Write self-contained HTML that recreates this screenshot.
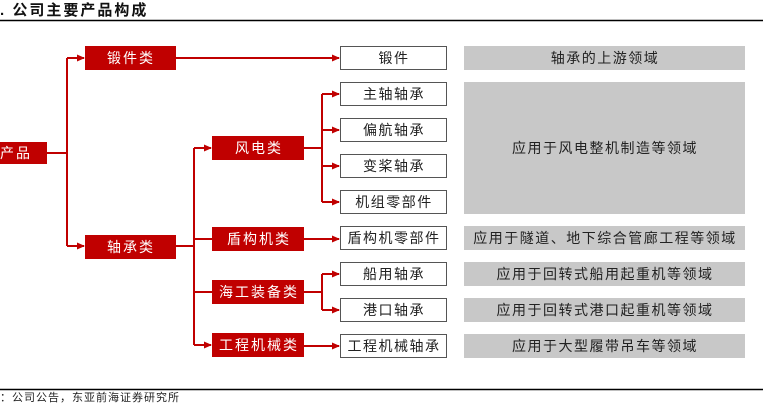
<!DOCTYPE html>
<html><head><meta charset="utf-8"><style>
body{margin:0;background:#fff;width:763px;height:403px;overflow:hidden}
text{font-family:"Liberation Sans","Noto Sans CJK SC",sans-serif}
</style></head><body>
<svg width="763" height="403" xmlns="http://www.w3.org/2000/svg">
<defs><marker id="a" markerWidth="8" markerHeight="8" refX="7" refY="4" orient="auto" markerUnits="userSpaceOnUse"><path d="M0,0.5 L8,4 L0,7.5Z" fill="#c00000"/></marker></defs>
<text x="0" y="15" font-size="15" font-weight="bold" fill="#111" letter-spacing="2">.  公司主要产品构成</text>
<line x1="0" y1="20.5" x2="763" y2="20.5" stroke="#000" stroke-width="1.5"/>
<g stroke="#c00000" stroke-width="2" fill="none">
<path d="M47,153 H67 M67,58 V246"/>
<path d="M67,58 H84" marker-end="url(#a)"/>
<path d="M67,246 H84" marker-end="url(#a)"/>
<path d="M176,58 H339" marker-end="url(#a)"/>
<path d="M176,246 H194 M194,148 V345"/>
<path d="M194,148 H211" marker-end="url(#a)"/>
<path d="M194,345 H211" marker-end="url(#a)"/>
<path d="M194,292 H212 M194,239 H212"/>
<path d="M304,148 H322 M322,94 V202"/>
<path d="M322,94 H339" marker-end="url(#a)"/>
<path d="M322,130 H339" marker-end="url(#a)"/>
<path d="M322,166 H339" marker-end="url(#a)"/>
<path d="M322,202 H339" marker-end="url(#a)"/>
<path d="M304,239 H339" marker-end="url(#a)"/>
<path d="M304,292 H322 M322,274 V310"/>
<path d="M322,274 H339" marker-end="url(#a)"/>
<path d="M322,310 H339" marker-end="url(#a)"/>
<path d="M304,346 H339" marker-end="url(#a)"/>
</g>
<g fill="#c00000">
<rect x="-30" y="142" width="77" height="22"/>
<rect x="85" y="46" width="91" height="24"/>
<rect x="85" y="235" width="91" height="24"/>
<rect x="212" y="136" width="92" height="24"/>
<rect x="212" y="227" width="92" height="24"/>
<rect x="212" y="280" width="92" height="24"/>
<rect x="212" y="333" width="92" height="24"/>
</g>
<g fill="#fff" font-size="14" text-anchor="middle" letter-spacing="2">
<text x="0" y="158">主要产品</text>
<text x="131" y="63">锻件类</text>
<text x="131" y="252">轴承类</text>
<text x="259" y="153">风电类</text>
<text x="259" y="244">盾构机类</text>
<text x="259" y="297">海工装备类</text>
<text x="259" y="350">工程机械类</text>
</g>
<g fill="#fff" stroke="#555" stroke-width="1">
<rect x="340.5" y="46.5" width="106" height="23"/>
<rect x="340.5" y="82.5" width="106" height="23"/>
<rect x="340.5" y="118.5" width="106" height="23"/>
<rect x="340.5" y="154.5" width="106" height="23"/>
<rect x="340.5" y="190.5" width="106" height="23"/>
<rect x="340.5" y="226.5" width="106" height="23"/>
<rect x="340.5" y="262.5" width="106" height="23"/>
<rect x="340.5" y="298.5" width="106" height="23"/>
<rect x="340.5" y="334.5" width="106" height="23"/>
</g>
<g fill="#c8c8c8">
<rect x="464" y="46" width="281" height="24"/>
<rect x="464" y="82" width="281" height="132"/>
<rect x="464" y="226" width="281" height="24"/>
<rect x="464" y="262" width="281" height="24"/>
<rect x="464" y="298" width="281" height="24"/>
<rect x="464" y="334" width="281" height="24"/>
</g>
<g fill="#222" font-size="14" text-anchor="middle" letter-spacing="1.5">
<text x="394" y="63">锻件</text>
<text x="394" y="99">主轴轴承</text>
<text x="394" y="135">偏航轴承</text>
<text x="394" y="171">变桨轴承</text>
<text x="394" y="207">机组零部件</text>
<text x="394" y="243">盾构机零部件</text>
<text x="394" y="279">船用轴承</text>
<text x="394" y="315">港口轴承</text>
<text x="394" y="351">工程机械轴承</text>
<text x="605" y="63">轴承的上游领域</text>
<text x="605" y="153">应用于风电整机制造等领域</text>
<text x="605" y="243">应用于隧道、地下综合管廊工程等领域</text>
<text x="605" y="279">应用于回转式船用起重机等领域</text>
<text x="605" y="315">应用于回转式港口起重机等领域</text>
<text x="605" y="351">应用于大型履带吊车等领域</text>
</g>
<line x1="0" y1="389.5" x2="763" y2="389.5" stroke="#000" stroke-width="1.5"/>
<text x="0" y="401" font-size="11" fill="#222" letter-spacing="1">：公司公告，东亚前海证券研究所</text>
</svg>
</body></html>
